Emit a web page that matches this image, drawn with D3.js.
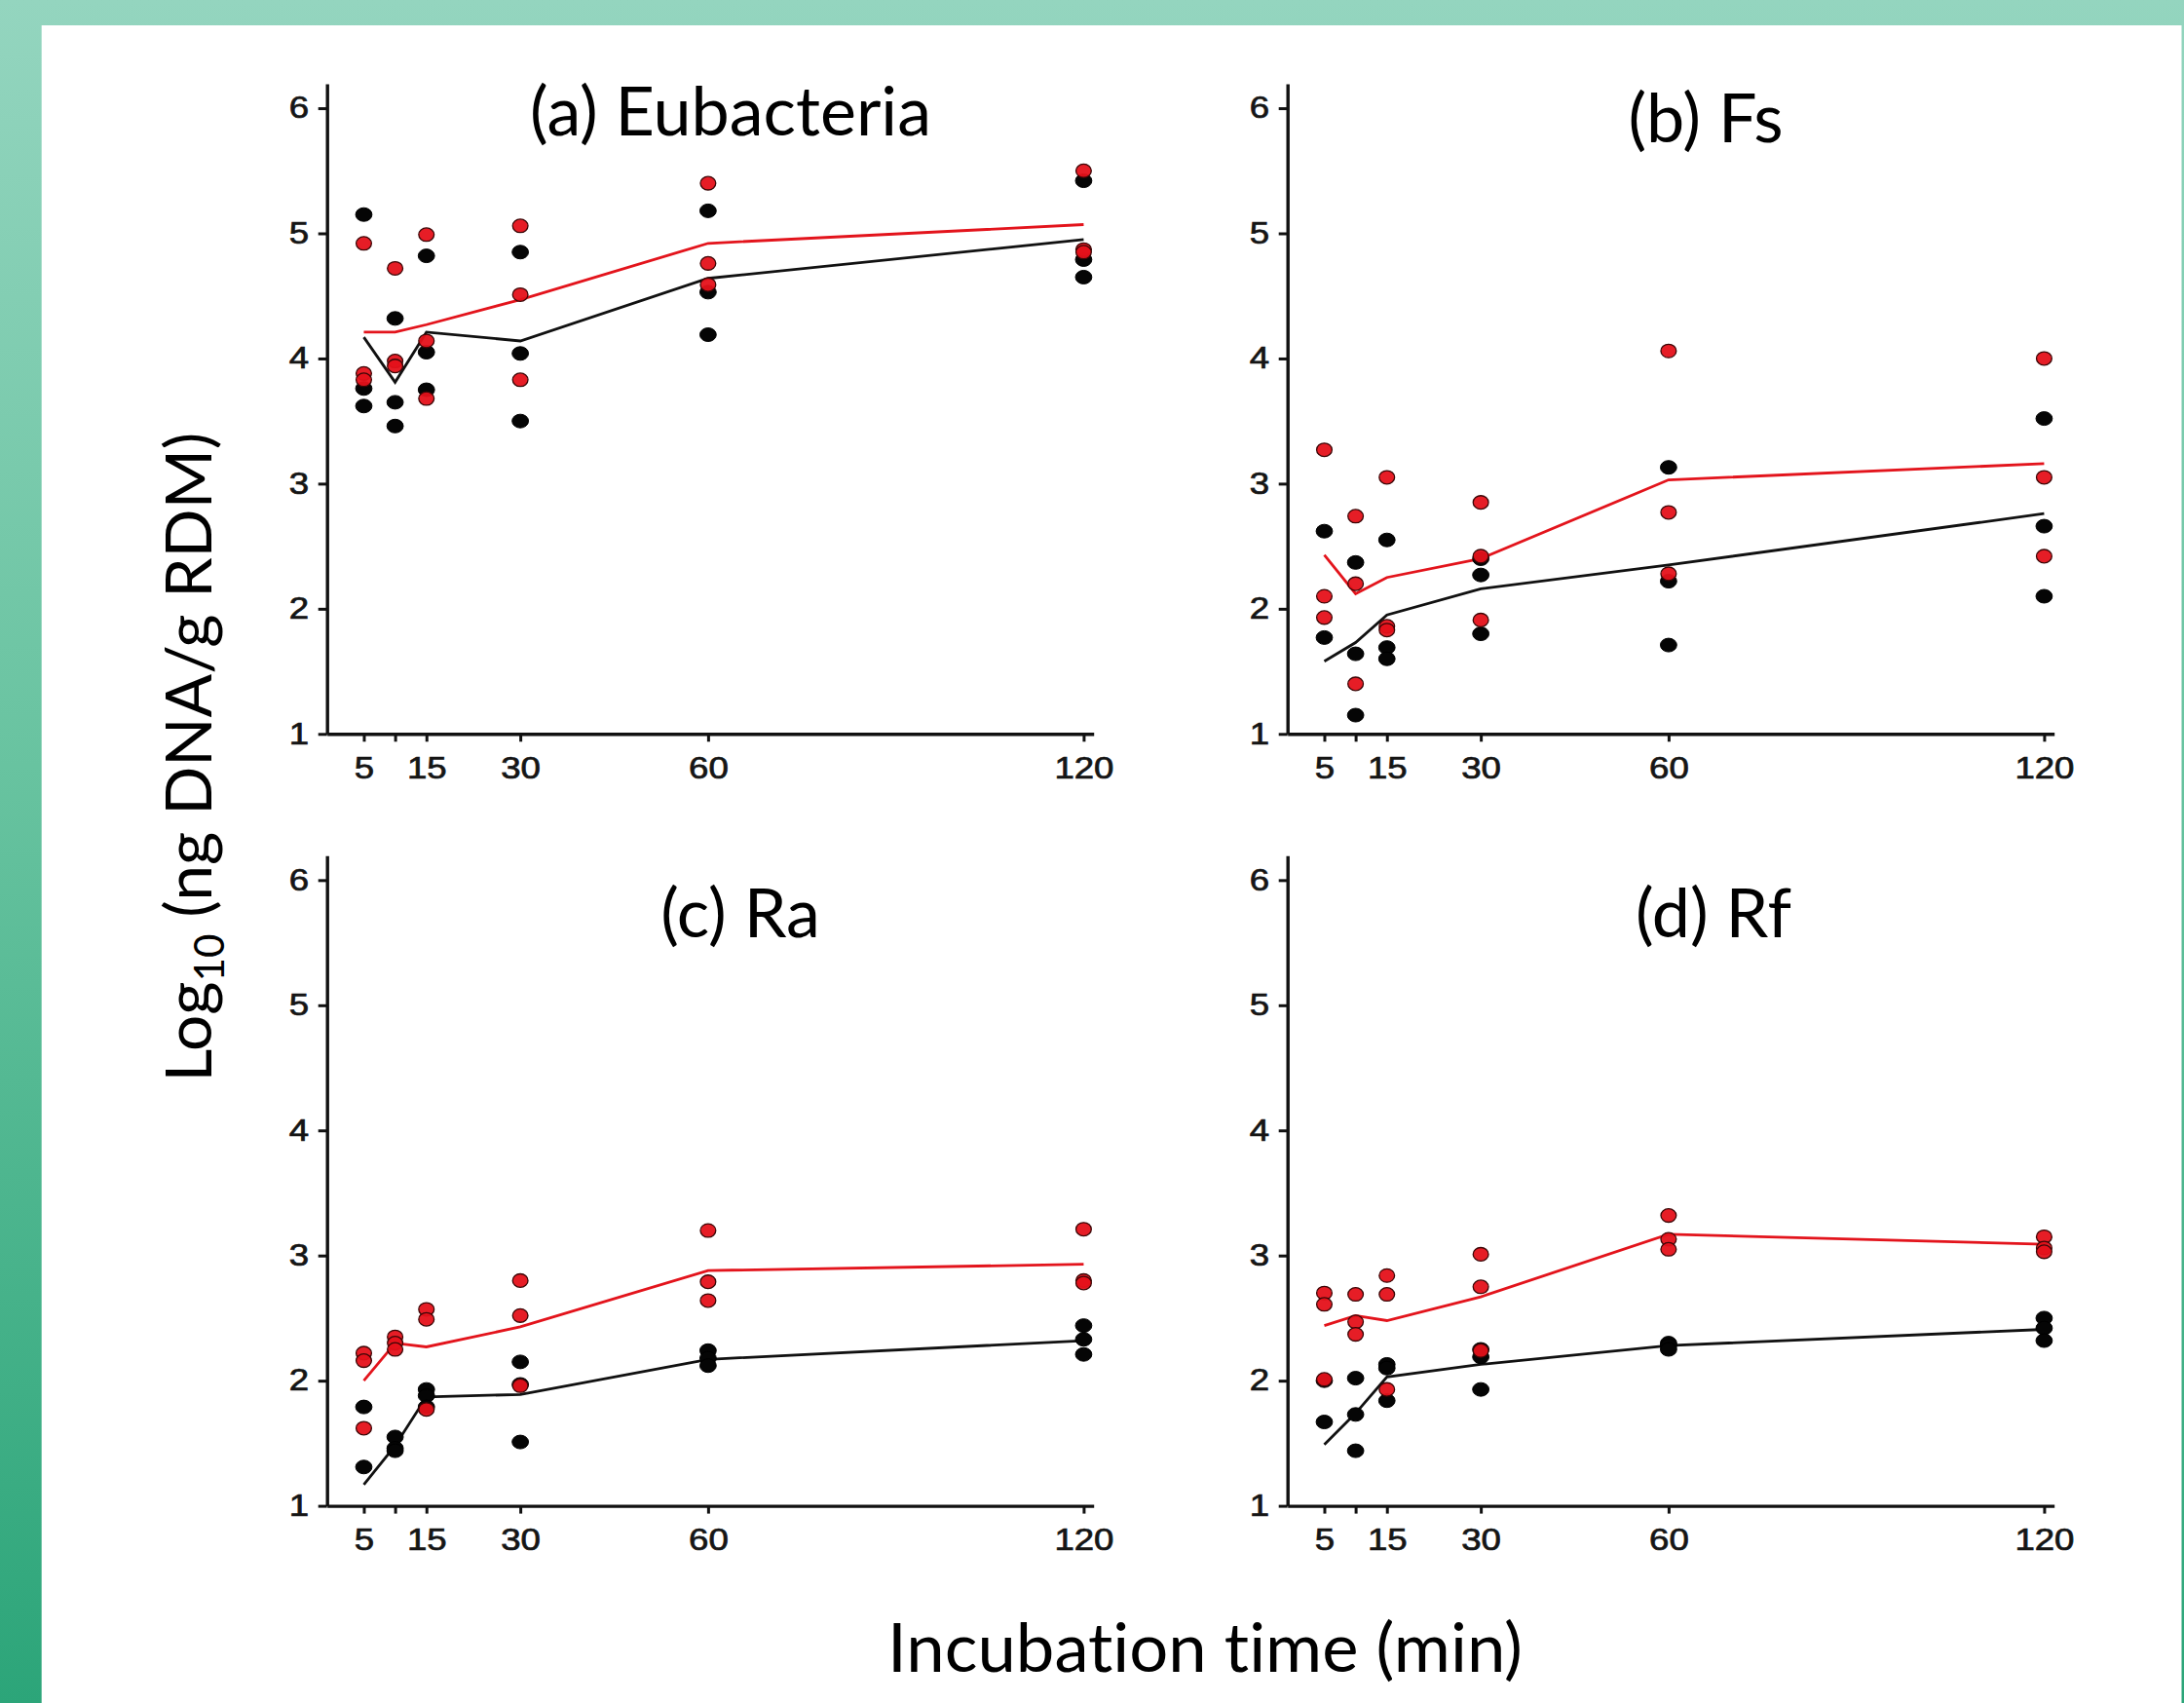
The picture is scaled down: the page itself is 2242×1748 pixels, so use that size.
<!DOCTYPE html>
<html>
<head>
<meta charset="utf-8">
<script src="https://cdn.jsdelivr.net/npm/d3@7"></script>
<style>
html, body { margin: 0; padding: 0; background: #ffffff; }
svg { display: block; }
text { font-variant-ligatures: none; font-feature-settings: "liga" 0, "clig" 0; }
</style>
</head>
<body>
<svg id="chart" width="2242" height="1748"></svg>
<script>
// ---------------- data ----------------
const times = [5, 10, 15, 30, 60, 120];
const xTickValues = [5, 10, 15, 30, 60, 120];
const xTickLabels = ["5", "", "15", "30", "60", "120"];
const yTickValues = [1, 2, 3, 4, 5, 6];
const panelTitles = ["(a) Eubacteria", "(b) Fs", "(c) Ra", "(d) Rf"];
const xAxisTitle = "Incubation time (min)";

// (a) Eubacteria
const eubBlackPts = [[5.15, 3.76, 3.62], [4.32, 3.65, 3.46], [4.82, 4.05, 3.75], [4.85, 4.04, 3.50], [5.18, 4.53, 4.19], [5.42, 4.79, 4.65]];
const eubRedPts   = [[4.92, 3.88, 3.83], [4.72, 3.98, 3.94], [4.99, 4.14, 3.68], [5.06, 4.51, 3.83], [5.40, 4.76, 4.59], [5.50, 4.87, 4.85]];
const eubBlackLine = [4.17, 3.81, 4.21, 4.14, 4.64, 4.95];
const eubRedLine   = [4.21, 4.21, 4.27, 4.47, 4.92, 5.07];

// (b) Fs
const fsBlackPts = [[2.62, 1.77], [2.37, 1.64, 1.15], [2.55, 1.69, 1.60], [2.40, 2.27, 1.80], [3.13, 2.22, 1.71], [3.52, 2.66, 2.10]];
const fsRedPts   = [[3.27, 2.10, 1.93], [2.74, 2.20, 1.40], [3.05, 1.86, 1.83], [2.85, 2.42, 1.91], [4.06, 2.77, 2.28], [4.00, 3.05, 2.42]];
const fsBlackLine = [1.58, 1.73, 1.95, 2.16, 2.35, 2.76];
const fsRedLine   = [2.43, 2.12, 2.25, 2.40, 3.03, 3.16];

// (c) Ra
const raBlackPts = [[1.79, 1.31], [1.55, 1.46, 1.44], [1.93, 1.88, 1.79], [2.15, 1.97, 1.51], [2.24, 2.18, 2.12], [2.44, 2.33, 2.21]];
const raRedPts   = [[2.22, 2.16, 1.62], [2.35, 2.30, 2.25], [2.57, 2.49, 1.77], [2.80, 2.52, 1.96], [3.20, 2.79, 2.64], [3.21, 2.80, 2.78]];
const raBlackLine = [1.17, 1.48, 1.87, 1.89, 2.17, 2.32];
const raRedLine   = [2.00, 2.30, 2.27, 2.43, 2.88, 2.93];

// (d) Rf
const rfBlackPts = [[2.00, 1.67], [2.02, 1.73, 1.44], [2.13, 2.10, 1.84], [2.25, 2.19, 1.93], [2.30, 2.28, 2.25], [2.50, 2.42, 2.32]];
const rfRedPts   = [[2.70, 2.61, 2.01], [2.69, 2.47, 2.37], [2.84, 2.69, 1.93], [3.01, 2.75, 2.24], [3.32, 3.13, 3.05], [3.15, 3.06, 3.03]];
const rfBlackLine = [1.49, 1.74, 2.03, 2.13, 2.28, 2.41];
const rfRedLine   = [2.44, 2.52, 2.48, 2.67, 3.17, 3.09];

// ---------------- layout ----------------
const W = 2242, H = 1748;
const plotW = 787, plotH = 667.3;
const xDomain = [-0.88, 121.6];
const yDomain = [1, 6.195];
const panelOrigins = [[335.7, 86], [1321.7, 86], [335.7, 878.3], [1321.7, 878.3]];
const titlePos = [[750, 139], [1751, 146], [760, 962], [1759, 962]];
const RED = "#e5111a", BLACK = "#050505";
const STRETCH = 1.2; // horizontal stretch of tick labels seen in the reference

const panels = [
  {black: eubBlackPts, red: eubRedPts, bl: eubBlackLine, rl: eubRedLine},
  {black: fsBlackPts, red: fsRedPts, bl: fsBlackLine, rl: fsRedLine},
  {black: raBlackPts, red: raRedPts, bl: raBlackLine, rl: raRedLine},
  {black: rfBlackPts, red: rfRedPts, bl: rfBlackLine, rl: rfRedLine}
];

const svg = d3.select("#chart");

// background
const defs = svg.append("defs");
const grad = defs.append("linearGradient").attr("id", "bg").attr("x1", 0).attr("y1", 0).attr("x2", 0).attr("y2", 1);
grad.append("stop").attr("offset", "0%").attr("stop-color", "#94d5bf");
grad.append("stop").attr("offset", "45%").attr("stop-color", "#68c3a0");
grad.append("stop").attr("offset", "100%").attr("stop-color", "#2ca579");
svg.append("rect").attr("x", 0).attr("y", 0).attr("width", W).attr("height", H).attr("fill", "url(#bg)");
svg.append("rect").attr("x", 42.7).attr("y", 26).attr("width", 2239.5 - 42.7).attr("height", H - 26).attr("fill", "#ffffff");

const x = d3.scaleLinear().domain(xDomain).range([0, plotW]);
const y = d3.scaleLinear().domain(yDomain).range([plotH, 0]);

const line = d3.line().x(d => x(d[0])).y(d => y(d[1]));

function flatten(ptsByTime) {
  const out = [];
  ptsByTime.forEach((arr, i) => arr.forEach(v => out.push([times[i], v])));
  return out;
}

const titleFont = "Lato, 'Open Sans', sans-serif";
const tickFont = "'Liberation Sans', Arial, sans-serif";

panels.forEach((p, idx) => {
  const [ox, oy] = panelOrigins[idx];
  const g = svg.append("g").attr("transform", `translate(${ox},${oy})`);

  // axes
  const gx = g.append("g").attr("transform", `translate(0,${plotH})`)
    .call(d3.axisBottom(x).tickValues(xTickValues).tickFormat((d, i) => xTickLabels[i])
      .tickSizeInner(8).tickSizeOuter(0).tickPadding(16));
  const gy = g.append("g")
    .call(d3.axisLeft(y).tickValues(yTickValues).tickFormat(d3.format("d"))
      .tickSizeInner(9).tickSizeOuter(0).tickPadding(9.7));

  [gx, gy].forEach(ax => {
    ax.select(".domain").attr("stroke", "#111").attr("stroke-width", 3.4);
    ax.selectAll(".tick line").attr("stroke", "#111").attr("stroke-width", 3);
    ax.selectAll(".tick text").attr("font-family", tickFont).attr("font-size", 30.5)
      .attr("fill", "#151515").attr("stroke", "#151515").attr("stroke-width", 0.7)
      .attr("transform", `scale(${STRETCH},1)`);
  });
  gy.selectAll(".tick text").attr("x", -18.7 / STRETCH);

  // mean lines
  g.append("path").datum(times.map((t, i) => [t, p.bl[i]]))
    .attr("d", line).attr("fill", "none").attr("stroke", "#111").attr("stroke-width", 2.8);
  g.append("path").datum(times.map((t, i) => [t, p.rl[i]]))
    .attr("d", line).attr("fill", "none").attr("stroke", "#e3141c").attr("stroke-width", 2.8);

  // points
  g.append("g").selectAll("ellipse").data(flatten(p.black)).join("ellipse")
    .attr("cx", d => x(d[0])).attr("cy", d => y(d[1]))
    .attr("rx", 8.4).attr("ry", 7)
    .attr("fill", BLACK).attr("stroke", "#000").attr("stroke-width", 1);
  g.append("g").selectAll("ellipse").data(flatten(p.red)).join("ellipse")
    .attr("cx", d => x(d[0])).attr("cy", d => y(d[1]))
    .attr("rx", 7.9).attr("ry", 6.9)
    .attr("fill", RED).attr("fill-opacity", 0.95)
    .attr("stroke", "#3a0606").attr("stroke-width", 1.3);
});

// titles
function fit(sel, target) {
  const w = sel.node().getComputedTextLength();
  const fs = parseFloat(sel.attr("font-size"));
  sel.attr("font-size", fs * target / w);
  return fs * target / w;
}
const probe = svg.append("text").attr("font-family", titleFont).attr("font-size", 73).text(panelTitles[0]);
const titleSize = fit(probe, 412);
probe.remove();
panelTitles.forEach((t, i) => {
  svg.append("text").attr("x", titlePos[i][0]).attr("y", titlePos[i][1])
    .attr("text-anchor", "middle").attr("font-family", titleFont)
    .attr("font-size", titleSize).attr("fill", "#000").text(t);
});

// x axis title
const xt = svg.append("text").attr("x", 1237).attr("y", 1716).attr("text-anchor", "middle")
  .attr("font-family", titleFont).attr("font-size", 70).attr("fill", "#000").text(xAxisTitle);
fit(xt, 652);

// y axis title with subscript
const yt = svg.append("text").attr("transform", "translate(217,777) rotate(-90)")
  .attr("text-anchor", "middle").attr("font-family", titleFont).attr("font-size", 74).attr("fill", "#000");
yt.append("tspan").text("Log");
const sub = yt.append("tspan").attr("font-size", "64%").text("10");
const rest = yt.append("tspan").text(" (ng DNA/g RDM)");
const yfs = fit(yt, 667);
sub.attr("dy", yfs * 0.2);
rest.attr("dy", -yfs * 0.2);
</script>
</body>
</html>
